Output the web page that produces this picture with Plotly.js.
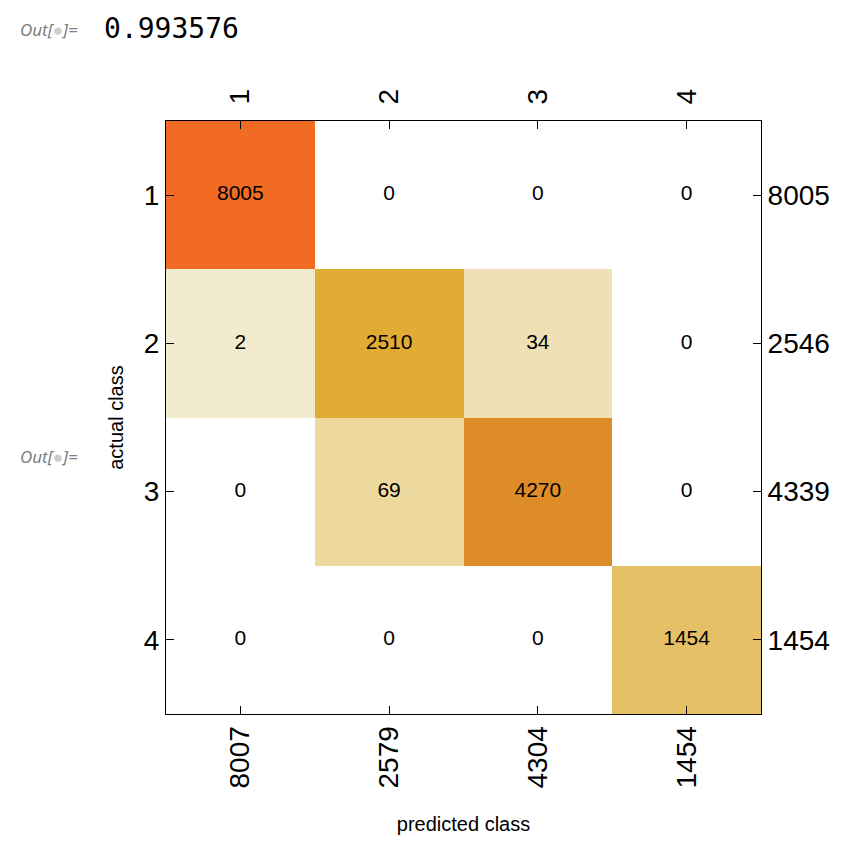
<!DOCTYPE html>
<html>
<head>
<meta charset="utf-8">
<script src="https://cdn.plot.ly/plotly-3.0.1.min.js"></script>
<style>html,body{margin:0;padding:0;background:#fff;}#chart{width:830px;height:851px;overflow:hidden;}</style>
</head>
<body>
<div id="chart"></div>
<script>
// Classes and confusion-matrix counts (rows = actual, columns = predicted)
const classes = [1, 2, 3, 4];
const row1 = [8005, 0, 0, 0];
const row2 = [2, 2510, 34, 0];
const row3 = [0, 69, 4270, 0];
const row4 = [0, 0, 0, 1454];
const rowTotals = ["8005", "2546", "4339", "1454"];
const colTotals = ["8007", "2579", "4304", "1454"];
const accuracy = "0.993576";

const counts = [row1, row2, row3, row4];

// Color applied by log count (zero cells left white)
const colorsAscending = ["#F2EBCE", "#EFE1B5", "#EDD89E", "#E6C066", "#E2AC34", "#DE8C28", "#F26B24"];
const nonzero = counts.flat().filter(v => v > 0).sort((a, b) => a - b);
const lmin = Math.log(nonzero[0]), lmax = Math.log(nonzero[nonzero.length - 1]);
const colorscale = nonzero.map((v, i) => [(Math.log(v) - lmin) / (lmax - lmin), colorsAscending[i]]);

const z = counts.map(r => r.map(v => v > 0 ? Math.log(v) : null));

const tx = [], ty = [], tt = [];
counts.forEach((r, i) => r.forEach((v, j) => { tx.push(classes[j]); ty.push(classes[i]); tt.push(String(v)); }));

const fontFam = "Liberation Sans, Arial, sans-serif";

const heat = {
  type: "heatmap",
  x: classes, y: classes, z: z,
  colorscale: colorscale, zmin: lmin, zmax: lmax,
  showscale: false, hoverinfo: "skip", xgap: 0, ygap: 0
};
const labels = {
  type: "scatter", mode: "text",
  x: tx, y: ty, text: tt,
  xaxis: "x2", yaxis: "y2",
  textfont: {family: fontFam, size: 21, color: "#000"},
  hoverinfo: "skip", showlegend: false
};

const axisCommon = {
  showgrid: false, zeroline: false, showline: true, linecolor: "#000", linewidth: 1,
  ticks: "inside", ticklen: 8, tickcolor: "#000", tickwidth: 1,
  tickfont: {family: fontFam, size: 28, color: "#000"},
  tickmode: "array", tickvals: classes, fixedrange: true
};

const layout = {
  width: 830, height: 851,
  margin: {l: 166, r: 69, t: 121, b: 137},
  paper_bgcolor: "#fff", plot_bgcolor: "#fff",
  showlegend: false,
  xaxis: Object.assign({}, axisCommon, {
    range: [0.5, 4.5], ticktext: colTotals, tickangle: -90, side: "bottom",
    title: {text: "predicted class", font: {family: fontFam, size: 20, color: "#000"}, standoff: 29}
  }),
  yaxis: Object.assign({}, axisCommon, {
    range: [4.5, 0.5], ticktext: classes.map(String), side: "left",
    title: {text: "actual class", font: {family: fontFam, size: 20, color: "#000"}, standoff: 14}
  }),
  xaxis2: Object.assign({}, axisCommon, {
    range: [0.5, 4.5], ticktext: classes.map(String), tickangle: -90, side: "top",
    overlaying: "x", anchor: "y2", ticklabelstandoff: 10
  }),
  yaxis2: Object.assign({}, axisCommon, {
    range: [4.5, 0.5], ticktext: rowTotals, side: "right",
    overlaying: "y", anchor: "x2"
  }),
  annotations: [
    {xref: "paper", yref: "paper", x: -0.2487, y: 1.1535, xanchor: "left", yanchor: "middle",
     text: "<i>Out[<span style='color:#cccccc'>●</span>]=</i>", showarrow: false,
     font: {family: "Noto Sans, sans-serif", size: 17, color: "#808080"}},
    {xref: "paper", yref: "paper", x: -0.1076, y: 1.1568, xanchor: "left", yanchor: "middle",
     text: accuracy, showarrow: false,
     font: {family: "DejaVu Sans Mono, monospace", size: 28, color: "#000"}},
    {xref: "paper", yref: "paper", x: -0.2487, y: 0.4334, xanchor: "left", yanchor: "middle",
     text: "<i>Out[<span style='color:#cccccc'>●</span>]=</i>", showarrow: false,
     font: {family: "Noto Sans, sans-serif", size: 17, color: "#808080"}}
  ]
};

Plotly.newPlot("chart", [heat, labels], layout, {displayModeBar: false, staticPlot: true});
</script>
</body>
</html>
